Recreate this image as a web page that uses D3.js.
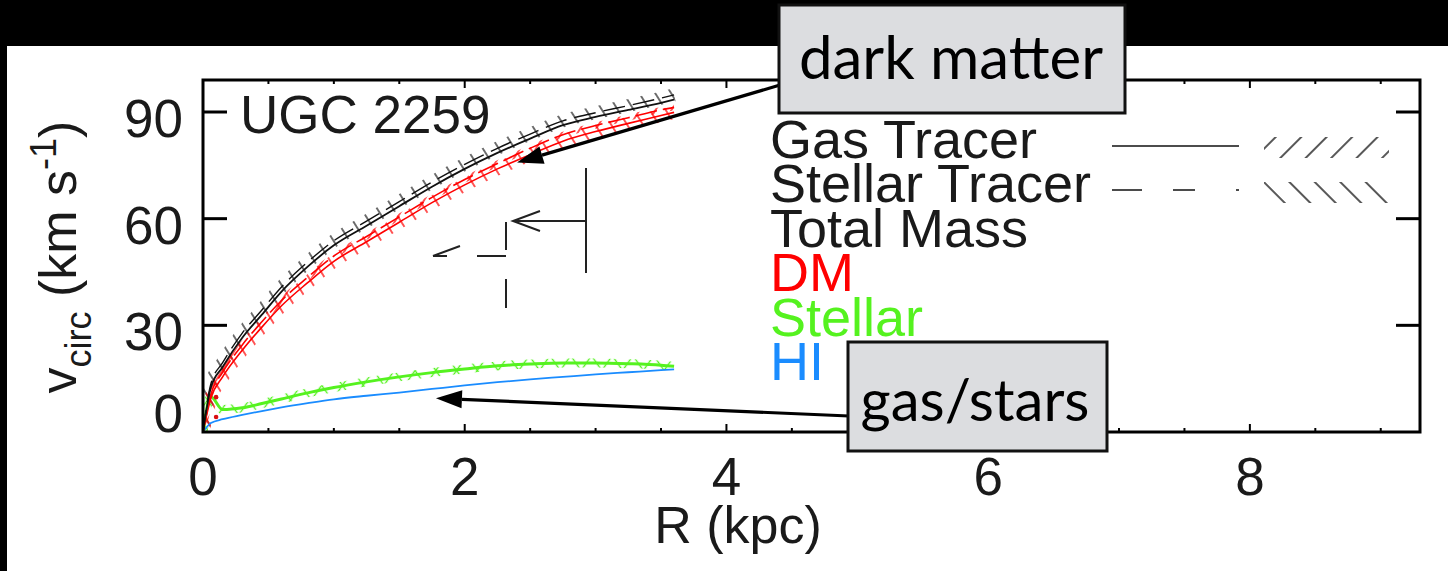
<!DOCTYPE html>
<html>
<head>
<meta charset="utf-8">
<script src="https://cdn.jsdelivr.net/npm/d3@7"></script>
<style>
  body { margin: 0; background: #000; }
  svg { display: block; }
</style>
</head>
<body>
<div id="chart"></div>
<script>
// rotation curve of UGC 2259
const radius = [0, 0.06, 0.15, 0.3, 0.45, 0.6, 0.8, 1.0, 1.25, 1.5, 1.75, 2.0, 2.25, 2.5, 2.75, 3.0, 3.25, 3.5, 3.6];
const totalGas  = [0, 12.5, 18.3, 26.5, 33, 39.5, 46.5, 52.5, 58, 63.5, 69, 74, 78.5, 82.5, 86.3, 88.6, 90.6, 92.6, 93.5];
const totalStar = [0, 13.5, 19.5, 27.8, 34.3, 40.8, 47.8, 53.8, 59.3, 64.8, 70.3, 75.3, 79.8, 83.8, 87.5, 89.8, 91.8, 93.9, 94.8];
const dmGas     = [0, 9.5, 15.5, 23, 29.5, 35.5, 42, 48, 53.5, 59, 64.5, 69.5, 74, 78, 81.8, 84.5, 86.8, 89, 89.9];
const dmStar    = [0, 10.5, 16.8, 24.5, 31, 37, 43.5, 49.5, 55, 60.5, 66, 71, 75.5, 79.8, 83.6, 86.2, 88.4, 90.6, 91.3];
const stellar   = [0, 9.9, 6.3, 6.8, 8.0, 9.3, 11.0, 12.5, 14.1, 15.5, 16.7, 17.7, 18.6, 19.1, 19.4, 19.4, 19.2, 18.8, 18.5];
const hiGas     = [0, 2.5, 3.6, 4.8, 5.9, 6.9, 8.1, 9.2, 10.2, 11.1, 12.1, 13.1, 14.0, 14.8, 15.5, 16.2, 16.8, 17.4, 17.6];
const dmPointR = [0.1, 0.1];
const dmPointV = [9.8, 4.2];

const xTicks = [0, 2, 4, 6, 8];
const yTicks = [0, 30, 60, 90];
const legendLabels = ["Gas Tracer", "Stellar Tracer", "Total Mass", "DM", "Stellar", "HI"];
const legendColors = ["#1a1a1a", "#1a1a1a", "#1a1a1a", "#ff0000", "#55f21f", "#1a8cff"];

const W = 1448, H = 571;
const font = "'Liberation Sans', Arial, Helvetica, sans-serif";

const svg = d3.select("#chart").append("svg")
  .attr("width", W).attr("height", H);

// page background: black band on top and at the left edge
svg.append("rect").attr("width", W).attr("height", H).attr("fill", "#000");
svg.append("rect").attr("x", 7).attr("y", 46).attr("width", W - 7).attr("height", H - 46).attr("fill", "#fff");

const x = d3.scaleLinear().domain([0, 9.3]).range([203, 1420]);
const y = d3.scaleLinear().domain([0, 99]).range([432, 80]);

const defs = svg.append("defs");
defs.append("clipPath").attr("id", "plot")
  .append("rect").attr("x", 203).attr("y", 80).attr("width", 1217).attr("height", 352);

function hatch(id, color, angle, spacing, width) {
  const p = defs.append("pattern").attr("id", id)
    .attr("patternUnits", "userSpaceOnUse")
    .attr("width", spacing).attr("height", 30)
    .attr("patternTransform", `rotate(${angle})`);
  p.append("line")
    .attr("x1", spacing / 2).attr("x2", spacing / 2)
    .attr("y1", 0).attr("y2", 30)
    .attr("stroke", color).attr("stroke-width", width);
}
hatch("blackBack", "#111", -32, 13.5, 1.2);
hatch("redBack", "#ff0000", -32, 13.5, 1.3);
hatch("redFwd", "#ff0000", 32, 13.5, 1.3);
hatch("greenBack", "#55f21f", -35, 17, 1.4);
hatch("greenFwd", "#55f21f", 35, 17, 1.4);
hatch("legFwd", "#111", 45, 18, 1.4);
hatch("legBack", "#111", -45, 18, 1.4);

const line = vals => d3.line()
  .x((d, i) => x(radius[i]))
  .y(d => y(d))
  .curve(d3.curveMonotoneX)(vals);

const plot = svg.append("g").attr("clip-path", "url(#plot)");

// hatched uncertainty bands
plot.append("path").attr("d", line(totalStar)).attr("fill", "none")
  .attr("stroke", "url(#blackBack)").attr("stroke-width", 13);
plot.append("path").attr("d", line(dmGas)).attr("fill", "none")
  .attr("stroke", "url(#redBack)").attr("stroke-width", 13);
plot.append("path").attr("d", line(dmStar)).attr("fill", "none")
  .attr("stroke", "url(#redFwd)").attr("stroke-width", 6);
plot.append("path").attr("d", line(stellar)).attr("fill", "none")
  .attr("stroke", "url(#greenBack)").attr("stroke-width", 9);
plot.append("path").attr("d", line(stellar)).attr("fill", "none")
  .attr("stroke", "url(#greenFwd)").attr("stroke-width", 9);

// curves
const curves = [
  {v: hiGas, color: "#1a8cff", w: 1.8, dash: null},
  {v: stellar, color: "#55f21f", w: 3, dash: null},
  {v: dmStar, color: "#ff0000", w: 1.6, dash: "22,6"},
  {v: dmGas, color: "#ff0000", w: 1.6, dash: null},
  {v: totalStar, color: "#111", w: 1.4, dash: "22,8"},
  {v: totalGas, color: "#111", w: 1.8, dash: null}
];
plot.selectAll("path.curve").data(curves).join("path")
  .attr("class", "curve")
  .attr("d", d => line(d.v))
  .attr("fill", "none")
  .attr("stroke", d => d.color)
  .attr("stroke-width", d => d.w)
  .attr("stroke-dasharray", d => d.dash);

plot.selectAll("circle").data(dmPointR).join("circle")
  .attr("cx", d => x(d)).attr("cy", (d, i) => y(dmPointV[i]))
  .attr("r", 2.3).attr("fill", "#d81010");

// frame and ticks
svg.append("rect").attr("x", 203).attr("y", 80).attr("width", 1217).attr("height", 352)
  .attr("fill", "none").attr("stroke", "#000").attr("stroke-width", 3);

const minor = d3.range(0.5, 9.3, 0.5);
const ticks = svg.append("g").attr("stroke", "#000").attr("stroke-width", 2);
ticks.selectAll("line.b").data(minor).join("line").attr("class", "b")
  .attr("x1", d => x(d)).attr("x2", d => x(d))
  .attr("y1", 432).attr("y2", d => 432 - (d % 2 === 0 ? 8 : 4));
ticks.selectAll("line.t").data(minor).join("line").attr("class", "t")
  .attr("x1", d => x(d)).attr("x2", d => x(d))
  .attr("y1", 80).attr("y2", d => 80 + (d % 2 === 0 ? 8 : 4));
ticks.selectAll("line.l").data(yTicks.slice(1)).join("line").attr("class", "l")
  .attr("x1", 203).attr("x2", 227).attr("y1", d => y(d)).attr("y2", d => y(d)).attr("stroke-width", 3);
ticks.selectAll("line.r").data(yTicks.slice(1)).join("line").attr("class", "r")
  .attr("x1", 1396).attr("x2", 1420).attr("y1", d => y(d)).attr("y2", d => y(d)).attr("stroke-width", 3);

svg.append("g").selectAll("text").data(xTicks).join("text")
  .attr("x", d => x(d)).attr("y", 495)
  .attr("text-anchor", "middle")
  .attr("font-family", font).attr("font-size", 53).attr("fill", "#1a1a1a")
  .text(d => d);

svg.append("g").selectAll("text").data(yTicks).join("text")
  .attr("x", 183).attr("y", d => d === 0 ? 432 : y(d) + 25)
  .attr("text-anchor", "end")
  .attr("font-family", font).attr("font-size", 53).attr("fill", "#1a1a1a")
  .text(d => d);

svg.append("text").attr("x", 738).attr("y", 543)
  .attr("text-anchor", "middle")
  .attr("font-family", font).attr("font-size", 52).attr("fill", "#1a1a1a")
  .text("R (kpc)");

const yl = svg.append("text")
  .attr("transform", "translate(76,257) rotate(-90)")
  .attr("text-anchor", "middle")
  .attr("font-family", font).attr("font-size", 52).attr("fill", "#1a1a1a");
yl.append("tspan").text("v");
yl.append("tspan").attr("font-size", 36).attr("dy", 15).text("circ");
yl.append("tspan").attr("dy", -15).text(" (km s");
yl.append("tspan").attr("font-size", 36).attr("dy", -20).text("-1");
yl.append("tspan").attr("dy", 20).text(")");

svg.append("text").attr("x", 240).attr("y", 133)
  .attr("font-family", font).attr("font-size", 53).attr("fill", "#1a1a1a")
  .text("UGC 2259");

// legend
svg.append("g").selectAll("text").data(legendLabels).join("text")
  .attr("x", 770).attr("y", (d, i) => 158 + i * 44.4)
  .attr("font-family", font).attr("font-size", 54)
  .attr("fill", (d, i) => legendColors[i])
  .text(d => d);
svg.append("line").attr("x1", 1112).attr("x2", 1239).attr("y1", 146).attr("y2", 146)
  .attr("stroke", "#111").attr("stroke-width", 1.6);
svg.append("line").attr("x1", 1112).attr("x2", 1239).attr("y1", 190).attr("y2", 190)
  .attr("stroke", "#111").attr("stroke-width", 1.6).attr("stroke-dasharray", "30,31,22,41,3");
svg.append("rect").attr("x", 1264).attr("y", 137).attr("width", 125).attr("height", 21)
  .attr("fill", "url(#legFwd)");
svg.append("rect").attr("x", 1264).attr("y", 182).attr("width", 125).attr("height", 21)
  .attr("fill", "url(#legBack)");

// open arrows drawn inside the panel
const deco = svg.append("g").attr("stroke", "#222").attr("stroke-width", 2).attr("fill", "none");
deco.append("path").attr("d", "M586,168V273M586,221H513M540,211L513,221L540,231");
deco.append("path").attr("d", "M506,222V250M506,256H477M506,279V308M433,256H447M433,256L460,246");

// call-out boxes with filled arrows
function arrow(x1, y1, x2, y2) {
  const a = Math.atan2(y2 - y1, x2 - x1), len = 26, hw = 9;
  const bx = x2 - len * Math.cos(a), by = y2 - len * Math.sin(a);
  svg.append("line").attr("x1", x1).attr("y1", y1).attr("x2", bx).attr("y2", by)
    .attr("stroke", "#000").attr("stroke-width", 3.2);
  svg.append("path")
    .attr("d", `M${x2},${y2}L${bx - hw * Math.sin(a)},${by + hw * Math.cos(a)}L${bx + hw * Math.sin(a)},${by - hw * Math.cos(a)}Z`)
    .attr("fill", "#000");
}
arrow(780, 85, x(2.4), y(75.8));
arrow(849, 416, x(1.78), y(9.5));

function callout(x0, y0, w, h, label, tx, ty, fs) {
  svg.append("rect").attr("x", x0).attr("y", y0).attr("width", w).attr("height", h)
    .attr("fill", "#dcdde0").attr("stroke", "#111").attr("stroke-width", 3);
  svg.append("text").attr("x", tx).attr("y", ty)
    .attr("text-anchor", "middle")
    .attr("font-family", "Lato, 'Open Sans', sans-serif").attr("font-size", fs)
    .attr("fill", "#000").text(label);
}
callout(779, 5, 346, 108, "dark matter", 951, 79, 60);
callout(848, 342, 259, 109, "gas/stars", 975, 421, 58);
</script>
</body>
</html>
